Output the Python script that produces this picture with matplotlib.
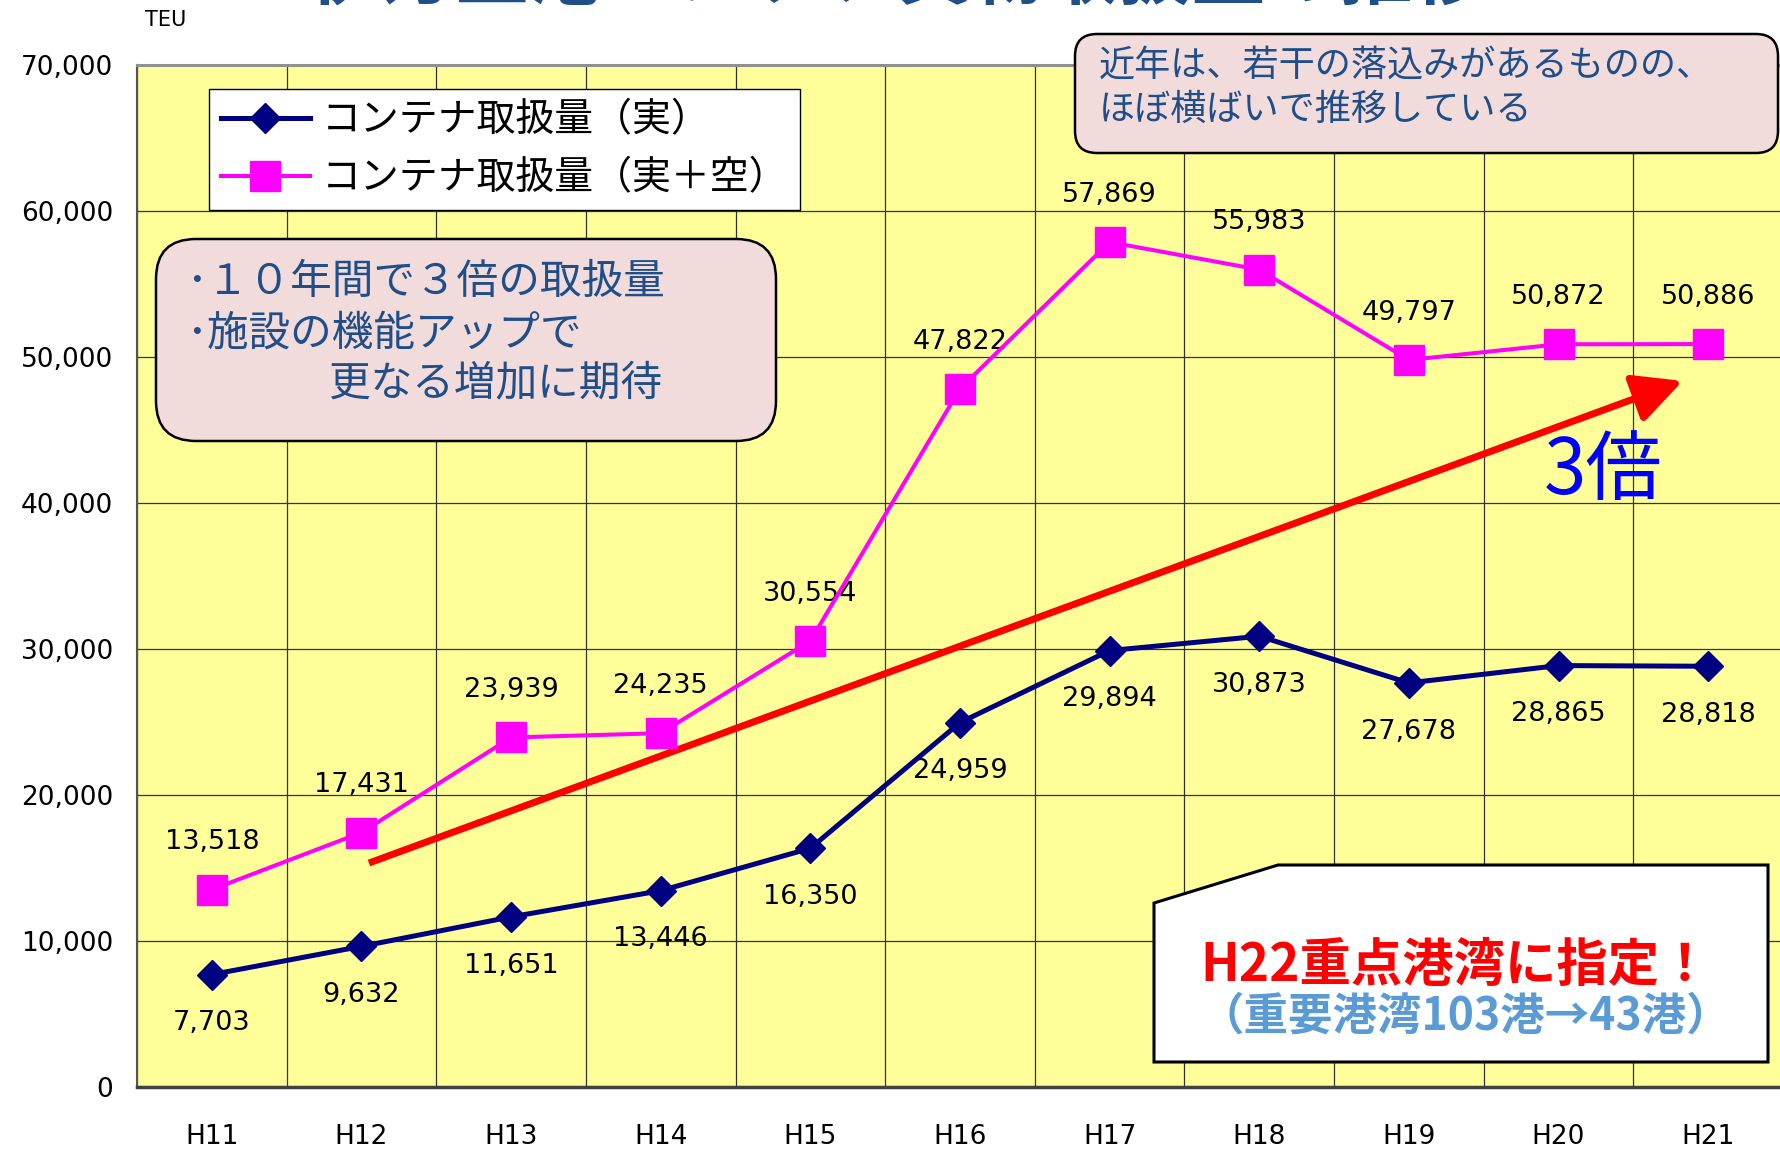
import numpy as np
import matplotlib
matplotlib.use("Agg")
import matplotlib.pyplot as plt
from matplotlib.patches import FancyBboxPatch, Polygon
from matplotlib.ticker import MultipleLocator, FuncFormatter

plt.rcParams['font.family'] = ['Noto Sans CJK JP', 'DejaVu Sans']

# ───────── Data ─────────────────────────────────────────────────────
years = ['H11', 'H12', 'H13', 'H14', 'H15', 'H16', 'H17', 'H18', 'H19', 'H20', 'H21']
laden = [7703, 9632, 11651, 13446, 16350, 24959, 29894, 30873, 27678, 28865, 28818]
laden_empty = [13518, 17431, 23939, 24235, 30554, 47822, 57869, 55983, 49797, 50872, 50886]

label_laden = 'コンテナ取扱量（実）'
label_total = 'コンテナ取扱量（実＋空）'

# ───────── Plot Settings ────────────────────────────────────────────
W, H = 1781, 1152
NAVY = '#000080'
MAGENTA = '#FF00FF'
TEXT_BLUE = '#1F4E89'
BOX_PINK = '#F2DCDB'
NUM_FONT = 'DejaVu Sans'


def fx(px):
    return px / W


def fy(py):
    return 1 - py / H


fig = plt.figure(figsize=(W / 100, H / 100), dpi=100)
ax = fig.add_axes([fx(137), fy(1087), (1783 - 137) / W, (1087 - 65) / H])
ax.set_facecolor('#FFFF99')

x = np.arange(len(years))
ax.plot(x, laden, color=NAVY, lw=3.6, marker='D', ms=15, mec=NAVY,
        label=label_laden, zorder=4)
ax.plot(x, laden_empty, color=MAGENTA, lw=2.9, marker='s', ms=21, mec=MAGENTA,
        label=label_total, zorder=4)

for xi, v in zip(x, laden_empty):
    ax.annotate(f'{v:,}', (xi, v), xytext=(0, 34), textcoords='offset points',
                ha='center', va='center', fontsize=19.5, family=NUM_FONT)
for xi, v in zip(x, laden):
    ax.annotate(f'{v:,}', (xi, v), xytext=(0, -35), textcoords='offset points',
                ha='center', va='center', fontsize=19.5, family=NUM_FONT)

# red "3x" arrow
ax.annotate('', xy=(9.83, 48360), xytext=(1.05, 15340),
            arrowprops=dict(arrowstyle='-|>,head_length=1.5,head_width=0.75',
                            color='#FF0000', lw=5, mutation_scale=20,
                            shrinkA=0, shrinkB=0, capstyle='butt'),
            zorder=3)
ax.text(9.30, 42100, '3倍', color='#0000FF', fontsize=55,
        ha='center', va='center', zorder=5)

# axes
ax.set_xlim(-0.5, 10.5)
ax.set_ylim(0, 70000)
ax.set_xticks(x)
ax.set_xticklabels(years, fontsize=19, family=NUM_FONT)
ax.set_xticks(np.arange(-0.5, 11, 1), minor=True)
ax.yaxis.set_major_locator(MultipleLocator(10000))
ax.yaxis.set_major_formatter(FuncFormatter(lambda v, _: f'{int(v):,}'))
for lab in ax.get_yticklabels():
    lab.set_family(NUM_FONT)
ax.tick_params(axis='y', labelsize=19, length=0, pad=17)
ax.tick_params(axis='x', which='both', length=0, pad=27)
ax.grid(True, axis='y', which='major', color='#333333', lw=0.9)
ax.grid(True, axis='x', which='minor', color='#333333', lw=0.9)
ax.grid(False, axis='x', which='major')
ax.set_axisbelow(True)
ax.spines['top'].set_color('#909090')
ax.spines['top'].set_linewidth(2.2)
ax.spines['left'].set_color('#555555')
ax.spines['left'].set_linewidth(1.5)
ax.spines['bottom'].set_color('#404040')
ax.spines['bottom'].set_linewidth(2.5)
ax.spines['right'].set_visible(False)

leg = ax.legend(loc='upper left', bbox_to_anchor=(fx(209), fy(89)),
                bbox_transform=fig.transFigure, fontsize=28, frameon=True,
                fancybox=False, framealpha=1, edgecolor='black',
                borderpad=0.3, borderaxespad=0, handlelength=2.3,
                handletextpad=0.3, labelspacing=0.45)
leg.get_frame().set_linewidth(1.0)
leg.set_zorder(6)

# title (cut off at the top edge in the original)
fig.text(0.504, fy(14), '伊万里港コンテナ貨物取扱量の推移', ha='center', va='bottom',
         fontsize=53, fontweight='bold', color=TEXT_BLUE)
fig.text(fx(145), fy(20), 'TEU', fontsize=15, va='center', family=NUM_FONT)

# ───────── Callout boxes ────────────────────────────────────────────
inch = fig.dpi_scale_trans

box1 = FancyBboxPatch((1.56, 7.11), 6.20, 2.02,
                      boxstyle='round,pad=0,rounding_size=0.4',
                      transform=inch, facecolor=BOX_PINK, edgecolor='black',
                      lw=1.8, zorder=5)
fig.add_artist(box1)
fig.text(fx(186), fy(282), '･１０年間で３倍の取扱量', fontsize=30, color=TEXT_BLUE,
         va='center', zorder=6)
fig.text(fx(186), fy(334), '･施設の機能アップで', fontsize=30, color=TEXT_BLUE,
         va='center', zorder=6)
fig.text(fx(329), fy(384), '更なる増加に期待', fontsize=30, color=TEXT_BLUE,
         va='center', zorder=6)

box2 = FancyBboxPatch((10.75, 9.99), 7.03, 1.19,
                      boxstyle='round,pad=0,rounding_size=0.22',
                      transform=inch, facecolor=BOX_PINK, edgecolor='black',
                      lw=1.8, zorder=5)
fig.add_artist(box2)
fig.text(fx(1099), fy(66), '近年は、若干の落込みがあるものの、', fontsize=26,
         color=TEXT_BLUE, va='center', zorder=6)
fig.text(fx(1099), fy(110), 'ほぼ横ばいで推移している', fontsize=26,
         color=TEXT_BLUE, va='center', zorder=6)

box3 = Polygon([(11.54, 2.49), (12.78, 2.87), (17.68, 2.87), (17.68, 0.90), (11.54, 0.90)],
               closed=True, transform=inch, facecolor='white', edgecolor='black',
               lw=2.2, zorder=5)
fig.add_artist(box3)
fig.text(fx(1456), fy(965), 'H22重点港湾に指定！', fontsize=37, fontweight='bold',
         color='#FF0000', ha='center', va='center', zorder=6)
fig.text(fx(1465), fy(1017), '（重要港湾103港→43港）', fontsize=32, fontweight='bold',
         color='#5B9BD5', ha='center', va='center', zorder=6)

fig.savefig('out.png', dpi=100)
